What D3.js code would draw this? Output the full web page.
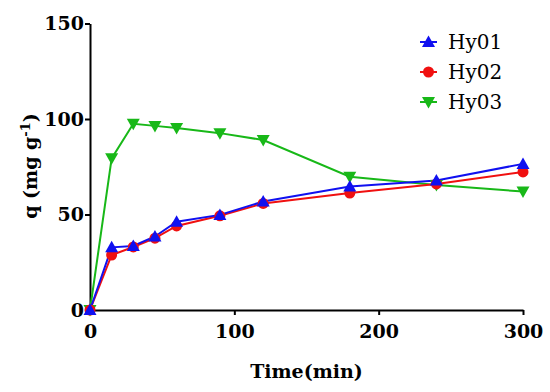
<!DOCTYPE html>
<html>
<head>
<meta charset="utf-8">
<script src="https://cdn.jsdelivr.net/npm/d3@7"></script>
<style>
    body { margin: 0; background: #fff; }
    .axis path, .axis line { stroke: #000; stroke-width: 2px; }
    .axis text { font-family: "DejaVu Serif", serif; font-weight: bold; font-size: 19px; fill: #000; }
    .title { font-family: "DejaVu Serif", serif; font-weight: bold; font-size: 19px; }
    .legend text { font-family: "DejaVu Serif", serif; font-size: 20px; }
</style>
</head>
<body>
<script>
(function() {

    // data
    var times = [0, 15, 30, 45, 60, 90, 120, 180, 240, 300];
    var hy01 = [0, 32.8, 33.5, 38.5, 46.2, 49.8, 56.8, 64.6, 67.8, 76.5];
    var hy02 = [0, 28.8, 33, 37.6, 44, 49.3, 55.8, 61.2, 66, 72.3];
    var hy03 = [0, 79.4, 97.5, 96.4, 95.3, 92.6, 89, 69.8, 65.5, 62];
    var seriesNames = ["Hy01", "Hy02", "Hy03"];
    var xTicks = [0, 100, 200, 300];
    var yTicks = [0, 50, 100, 150];

    var width = 550, height = 392;
    var margin = {left: 90, right: 27, top: 23.5, bottom: 82};

    var svg = d3.select("body").append("svg")
        .attr("width", width)
        .attr("height", height);

    var xScale = d3.scaleLinear()
        .domain([0, 300])
        .range([margin.left, width - margin.right]);

    var yScale = d3.scaleLinear()
        .domain([0, 150])
        .range([height - margin.bottom, margin.top]);

    // axes
    var xAxis = d3.axisBottom(xScale).tickValues(xTicks).tickSize(5).tickPadding(6).tickSizeOuter(0);
    var yAxis = d3.axisLeft(yScale).tickValues(yTicks).tickSize(5).tickPadding(1).tickSizeOuter(0);

    svg.append("g")
        .attr("class", "axis")
        .attr("transform", "translate(0," + yScale(0) + ")")
        .call(xAxis)
        .selectAll("text").attr("dy", "0.9em");

    svg.append("g")
        .attr("class", "axis")
        .attr("transform", "translate(" + xScale(0) + ",0)")
        .call(yAxis);

    // axis titles
    svg.append("text")
        .attr("class", "title")
        .attr("x", (xScale(0) + xScale(300)) / 2)
        .attr("y", 378)
        .attr("text-anchor", "middle")
        .text("Time(min)");

    var yt = svg.append("text")
        .attr("class", "title")
        .attr("transform", "translate(37," + 166 + ") rotate(-90)")
        .attr("text-anchor", "middle");
    yt.append("tspan").text("q (mg g");
    yt.append("tspan").attr("dy", -7).attr("font-size", "13px").text("-1");
    yt.append("tspan").attr("dy", 7).text(")");

    var series = [
        {name: seriesNames[0], values: hy01, color: "#1010f0", shape: "up"},
        {name: seriesNames[1], values: hy02, color: "#f01010", shape: "circle"},
        {name: seriesNames[2], values: hy03, color: "#18b818", shape: "down"}
    ];

    var line = d3.line()
        .x(function(d, i) { return xScale(times[i]); })
        .y(function(d) { return yScale(d); });

    function marker(g, shape, color) {
        if (shape == "circle") {
            g.append("circle").attr("r", 5.5).attr("fill", color);
        } else {
            var s = shape == "up" ? 1 : -1;
            g.append("path")
                .attr("d", "M0," + (-6.5 * s) + "L6.5," + (5 * s) + "L-6.5," + (5 * s) + "Z")
                .attr("fill", color);
        }
    }

    // draw order: green, red, blue on top
    [series[2], series[1], series[0]].forEach(function(s) {
        svg.append("path")
            .datum(s.values)
            .attr("fill", "none")
            .attr("stroke", s.color)
            .attr("stroke-width", 2)
            .attr("d", line);
    });
    [series[2], series[1], series[0]].forEach(function(s) {
        s.values.forEach(function(v, i) {
            var g = svg.append("g")
                .attr("transform", "translate(" + xScale(times[i]) + "," + yScale(v) + ")");
            marker(g, s.shape, s.color);
        });
    });

    // legend
    var legend = svg.append("g").attr("class", "legend");
    series.forEach(function(s, i) {
        var y = 42 + i * 30;
        legend.append("line")
            .attr("x1", 420).attr("x2", 437)
            .attr("y1", y).attr("y2", y)
            .attr("stroke", s.color).attr("stroke-width", 2);
        var g = legend.append("g").attr("transform", "translate(428.5," + y + ")");
        marker(g, s.shape, s.color);
        legend.append("text")
            .attr("x", 448)
            .attr("y", y + 7)
            .text(s.name);
    });
})();
</script>
</body>
</html>
